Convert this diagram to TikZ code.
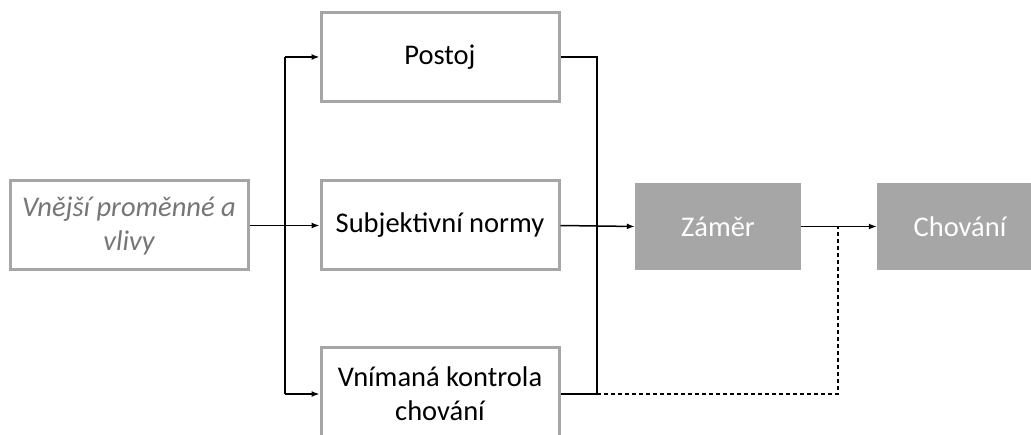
\documentclass[tikz,border=0pt]{standalone}
\usepackage{fontspec}
\setmainfont{Carlito}
\definecolor{boxgray}{RGB}{166,166,166}
\definecolor{txtgray}{RGB}{118,118,118}
\usetikzlibrary{arrows.meta,positioning}

\begin{document}
\begin{tikzpicture}[x=1pt,y=-1pt,
    every node/.style={font=\fontsize{28.5}{34}\selectfont},
    factor/.style={draw=boxgray,line width=3pt,fill=white,align=center,
                   minimum width=238pt,minimum height=89pt,inner sep=0pt},
    result/.style={fill=boxgray,text=white,align=center,
                   minimum width=166pt,minimum height=87pt,inner sep=0pt},
    link/.style={line width=1.5pt,-{Latex[length=8pt,width=6pt]}},
    plain/.style={line width=1.5pt},
    weak/.style={line width=1.5pt,dash pattern=on 4pt off 3pt}]
  \useasboundingbox (0,0) rectangle (1031,435);
  % factors
  \node[factor,text=txtgray,font=\fontsize{28.5}{34}\selectfont\itshape]
        (outer) at (129,225.5) {Vnější proměnné a\\vlivy};
  \node[factor] (attitude) at (440,57) {Postoj};
  \node[factor] (norms) at (440,225.5) {Subjektivní normy};
  \node[factor,minimum height=92pt] (control) at (440,394) {Vnímaná kontrola\\chování};
  % results
  \node[result] (intent) at (718,226.5) {Záměr};
  \node[result] (behaviour) at (960,226.5) {Chování};
  % branch points
  \coordinate (split) at (285,226);
  \coordinate (merge) at (597,226);
  \coordinate (tap) at (838,226.5);
  % connectors
  \draw[link] (outer.east) -- (norms.west);
  \draw[plain] (split |- attitude.west) -- (split |- control.west);
  \draw[link] (split |- attitude.west) -- (attitude.west);
  \draw[link] (split |- control.west) -- (control.west);
  \draw[plain] (attitude.east) -| (merge |- control.east) -- (control.east);
  \draw[link] (norms.east) -- (intent.west);
  \draw[link] (intent.east) -- (behaviour.west);
  \draw[weak] (merge |- control.east) -| (tap);
\end{tikzpicture}
\end{document}
